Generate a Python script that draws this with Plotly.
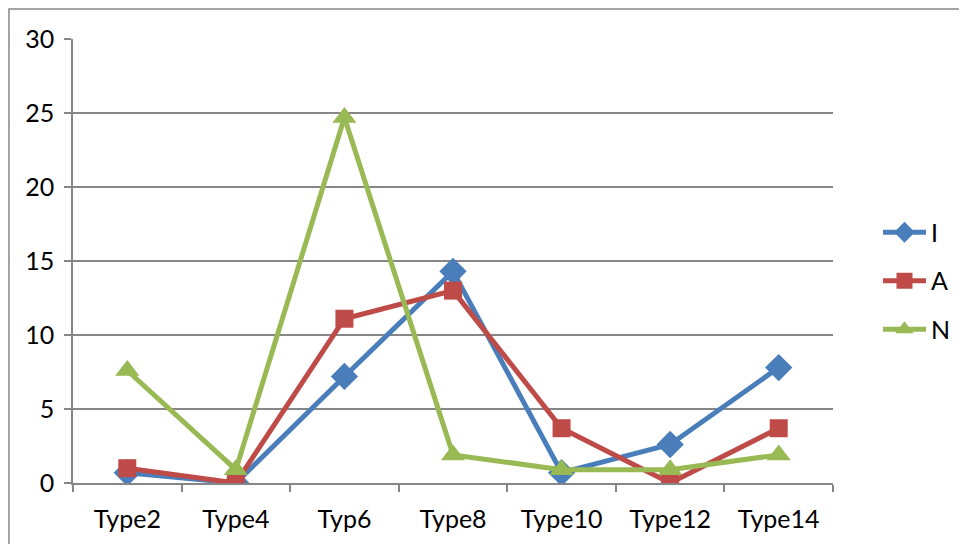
import plotly.graph_objects as go

categories = ["Type2", "Type4", "Typ6", "Type8", "Type10", "Type12", "Type14"]
series_I = [0.7, 0.0, 7.2, 14.3, 0.7, 2.6, 7.8]
series_A = [1.0, 0.0, 11.1, 13.0, 3.7, 0.0, 3.7]
series_N = [7.6, 0.9, 24.7, 1.9, 0.9, 0.9, 1.9]
y_ticks = [0, 5, 10, 15, 20, 25, 30]

FONT = "Lato"
fig = go.Figure()
specs = [
    ("I", series_I, "#4A7EBB", "diamond", 21),
    ("A", series_A, "#BE4B48", "square", 18),
    ("N", series_N, "#98B954", "triangle-up", 21),
]
for name, vals, color, sym, size in specs:
    fig.add_trace(go.Scatter(
        x=categories, y=vals, name=name, mode="lines+markers",
        legendgroup=name,
        line=dict(color=color, width=5),
        marker=dict(symbol=sym, size=size, color=color, line=dict(width=0)),
    ))

L, T = 65, 31
PW, PH = 760, 444
fig.update_layout(
    width=967, height=544,
    margin=dict(l=L, r=967 - L - PW, t=T, b=544 - T - PH),
    plot_bgcolor="white", paper_bgcolor="white",
    font=dict(family=FONT, size=25, color="black"),
    showlegend=True,
    legend=dict(x=(870 - L) / PW, xanchor="left", y=0.455, yanchor="middle",
                font=dict(size=25), tracegroupgap=13, itemwidth=43,
                bgcolor="rgba(0,0,0,0)"),
    xaxis=dict(type="category", range=[-0.5, 6.5], showgrid=False,
               showline=True, linecolor="#868686", linewidth=1.5,
               ticks="outside", tickson="boundaries", ticklen=7,
               tickcolor="#868686", tickwidth=1.5, ticklabelstandoff=13),
    yaxis=dict(range=[0, 30], tickvals=y_ticks, showgrid=True,
               gridcolor="#868686", gridwidth=1.5, zeroline=False,
               showline=True, linecolor="#868686", linewidth=1.5,
               ticks="outside", ticklen=7, tickcolor="#868686", tickwidth=1.5,
               ticklabelstandoff=5),
    shapes=[dict(type="rect", xref="paper", yref="paper",
                 x0=-(L - 1) / PW, x1=1.5, y0=-0.5, y1=1 + (T - 1) / PH,
                 line=dict(color="#868686", width=1.5), fillcolor="rgba(0,0,0,0)",
                 layer="below")],
)
fig.write_html("out.html")
